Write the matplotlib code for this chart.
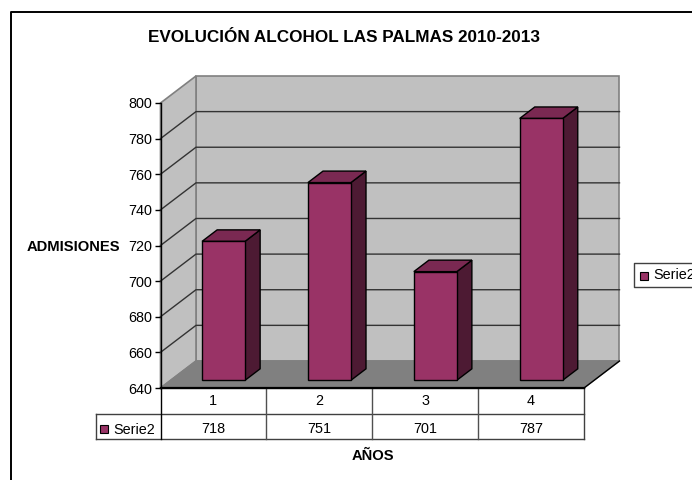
#!/usr/bin/env python3
import matplotlib
matplotlib.use('agg')
import matplotlib.pyplot as plt
from matplotlib.patches import Polygon, Rectangle

plt.rcParams['font.family'] = ['Liberation Sans', 'DejaVu Sans']

categories = ["1", "2", "3", "4"]
values = [718, 751, 701, 787]
y_ticks = [640, 660, 680, 700, 720, 740, 760, 780, 800]
series_name = "Serie2"
title = "EVOLUCIÓN ALCOHOL LAS PALMAS 2010-2013"
x_title = "AÑOS"
y_title = "ADMISIONES"

WALL = "#c0c0c0"
FLOOR = "#808080"
BAR = "#993366"
BAR_TOP = "#7a2952"
BAR_SIDE = "#4d1a33"

# size of the 3d depth, in data units
DEPTH_X = 35.5 / 105.9
DEPTH_Y = 27 / 1.78
BAR_W = 0.406
D0, D1 = 0.285, 0.71


def shift(x, y, d):
    # move a point on the front plane back by depth fraction d
    return (x + DEPTH_X * d, y + DEPTH_Y * d)


fig = plt.figure(figsize=(6.92, 4.8), dpi=100)

# page axes in pixels, for frame, table and legend
page = fig.add_axes([0, 0, 1, 1], zorder=0)
page.set_xlim(0, 692)
page.set_ylim(480, 0)
page.axis('off')

ax = fig.add_axes([160.5 / 692, (480 - 388) / 480, 423.5 / 692, 285 / 480], zorder=1)
ax.set_xlim(0, len(categories))
ax.set_ylim(y_ticks[0], y_ticks[-1])
ax.patch.set_visible(False)
for s in ax.spines.values():
    s.set_visible(False)
ax.spines['left'].set_visible(True)
ax.spines['left'].set_linewidth(1.0)
ax.spines['left'].set_zorder(6)
ax.set_xticks([])
ax.set_yticks(y_ticks)
ax.tick_params(axis='y', length=4, width=1, pad=2, labelsize=10.4, colors='black')

x0, x1 = ax.get_xlim()
y0, y1 = ax.get_ylim()

# walls and floor
ax.add_patch(Polygon([shift(x0, y0, 1), shift(x1, y0, 1), shift(x1, y1, 1), shift(x0, y1, 1)],
                     fc=WALL, ec=FLOOR, lw=1.2, clip_on=False, zorder=1))
ax.add_patch(Polygon([(x0, y0), shift(x0, y0, 1), shift(x0, y1, 1), (x0, y1)],
                     fc=WALL, ec=FLOOR, lw=1.2, clip_on=False, zorder=1))
ax.add_patch(Polygon([(x0, y0), (x1, y0), shift(x1, y0, 1), shift(x0, y0, 1)],
                     fc=FLOOR, ec=FLOOR, lw=1, clip_on=False, zorder=2))

# gridlines
for t in y_ticks[1:-1]:
    ax.plot(*zip((x0, t), shift(x0, t, 1), shift(x1, t, 1)), color="#333333", lw=1.0,
            clip_on=False, zorder=3, solid_joinstyle='miter')
ax.plot(*zip((x0, y0), (x1, y0)), color="black", lw=1.6, clip_on=False, zorder=5)
ax.plot(*zip((x1, y0), shift(x1, y0, 1)), color="black", lw=1.0, clip_on=False, zorder=5)

# bars
for i, v in enumerate(values):
    l = i + 0.5 - BAR_W / 2
    r = i + 0.5 + BAR_W / 2
    front = [shift(l, y0, D0), shift(r, y0, D0), shift(r, v, D0), shift(l, v, D0)]
    side = [shift(r, y0, D0), shift(r, y0, D1), shift(r, v, D1), shift(r, v, D0)]
    top = [shift(l, v, D0), shift(r, v, D0), shift(r, v, D1), shift(l, v, D1)]
    for pts, col in [(side, BAR_SIDE), (top, BAR_TOP), (front, BAR)]:
        ax.add_patch(Polygon(pts, fc=col, ec='black', lw=1.0, clip_on=False, zorder=4,
                             joinstyle='miter'))

# outer frame, open at the right and bottom
page.plot([10.5, 10.5, 692], [480, 11.5, 11.5], color="black", lw=1.4)

# data table under the plot
table_l, table_t, row, table_b = 95.5, 388, 414, 439
cell_w = 423.5 / len(categories)
page.plot([160.5, 584], [388, 388], color="black", lw=1.6)
page.plot([table_l, 584], [row, row], color="#404040", lw=1)
page.plot([table_l, 584], [table_b, table_b], color="#404040", lw=1)
page.plot([table_l, table_l], [row, table_b], color="#404040", lw=1)
page.plot([160.5, 160.5], [388, table_b], color="black", lw=1)
page.plot([584, 584], [388, table_b], color="#404040", lw=1)
for i, (c, v) in enumerate(zip(categories, values)):
    xc = 160.5 + cell_w * (i + 0.5)
    if i:
        page.plot([160.5 + cell_w * i] * 2, [388, table_b], color="#505050", lw=1)
    page.text(xc, 401, c, ha='center', va='center', fontsize=10.4)
    page.text(xc, 429, str(v), ha='center', va='center', fontsize=10.4)
page.add_patch(Rectangle((100, 425), 8, 8, fc=BAR, ec='black', lw=0.8))
page.text(113, 429.5, series_name, ha='left', va='center', fontsize=10.4)

# legend runs off the right edge
page.plot([692, 634, 634, 692], [263, 263, 286.5, 286.5], color="#404040", lw=1)
page.add_patch(Rectangle((640, 272), 8, 8, fc=BAR, ec='black', lw=0.8))
page.text(653, 275, series_name, ha='left', va='center', fontsize=10.4)

page.text(344.5, 38, title, ha='center', va='center', fontsize=12.3, fontweight='bold')
page.text(373, 455.5, x_title, ha='center', va='center', fontsize=10.6, fontweight='bold')
page.text(73, 247, y_title, ha='center', va='center', fontsize=10.6, fontweight='bold')

fig.savefig("out.png", dpi=100)
